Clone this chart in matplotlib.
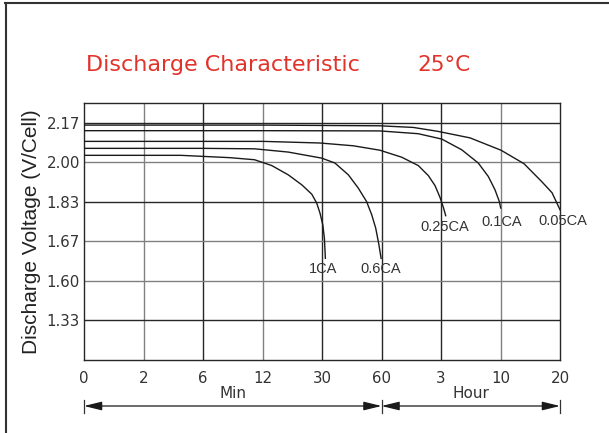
import matplotlib
matplotlib.use('Agg')
import matplotlib.pyplot as plt
import numpy as np
from matplotlib.lines import Line2D

# time axis: equal spacing between these marks (minutes)
t_marks = [0, 2, 6, 12, 30, 60, 180, 600, 1200]
t_labels = ['0', '2', '6', '12', '30', '60', '3', '10', '20']

# voltage axis: equal spacing between these marks (V/cell)
v_marks = [1.06, 1.33, 1.60, 1.67, 1.83, 2.00, 2.17, 2.255]
v_ticks = [1.33, 1.60, 1.67, 1.83, 2.00, 2.17]

# discharge curves, time in minutes, voltage in V/cell
t_1ca = [0, 4.5, 8.7, 11.2, 14.8, 19.8, 23.9, 26.9, 28.4, 29.4, 30.4, 31.2, 31.7]
v_1ca = [2.03, 2.03, 2.02, 2.011, 1.986, 1.946, 1.903, 1.863, 1.825, 1.784, 1.737, 1.683, 1.640]

t_06ca = [0, 6, 11.2, 19.8, 29.9, 36.5, 43.3, 48.3, 52.5, 55.1, 57.1, 58.7, 59.8]
v_06ca = [2.06, 2.06, 2.058, 2.044, 2.018, 1.997, 1.946, 1.889, 1.831, 1.777, 1.723, 1.664, 1.640]

t_025ca = [0, 12.2, 29.4, 45.8, 59.2, 80, 100.7, 134.2, 154.4, 167.9, 178, 196.4, 213.3]
v_025ca = [2.09, 2.09, 2.083, 2.071, 2.052, 2.036, 2.022, 1.986, 1.943, 1.900, 1.849, 1.808, 1.774]

t_01ca = [0, 12, 59, 134, 185, 326, 443, 514, 561, 592, 602]
v_01ca = [2.136, 2.136, 2.135, 2.123, 2.100, 2.054, 1.997, 1.939, 1.882, 1.831, 1.805]

t_005ca = [0, 12, 59, 124, 174, 385, 605, 837, 1018, 1120, 1200]
v_005ca = [2.16, 2.16, 2.157, 2.15, 2.133, 2.105, 2.052, 1.994, 1.916, 1.869, 1.798]

curves = [
    (t_1ca, v_1ca, '1CA', (-2, -4)),
    (t_06ca, v_06ca, '0.6CA', (0, -4)),
    (t_025ca, v_025ca, '0.25CA', (-1, -4)),
    (t_01ca, v_01ca, '0.1CA', (1, -7)),
    (t_005ca, v_005ca, '0.05CA', (3, -4)),
]

plt.rcParams['font.family'] = ['Liberation Sans', 'DejaVu Sans']

t_idx = np.arange(len(t_marks))
v_idx = [0, 1, 2, 3, 4, 5, 6, 6.5]


def t_fwd(x):
    return np.interp(x, t_marks, t_idx)


def t_inv(x):
    return np.interp(x, t_idx, t_marks)


def v_fwd(y):
    return np.interp(y, v_marks, v_idx)


def v_inv(y):
    return np.interp(y, v_idx, v_marks)


fig = plt.figure(figsize=(6.09, 4.33), dpi=100, facecolor='w')
ax = fig.add_axes([84 / 609, 1 - 360 / 433, 476 / 609, 257 / 433])
ax.set_xscale('function', functions=(t_fwd, t_inv))
ax.set_yscale('function', functions=(v_fwd, v_inv))
ax.set_xlim(0, 1200)
ax.set_ylim(1.06, 2.255)

dark = '#262626'
light = '#808080'
for t in t_marks[1:-1]:
    col = light if t in (2, 12, 600) else dark
    ax.axvline(t, color=col, lw=1.0, zorder=1)
for v in v_ticks:
    col = light if v in (2.00, 1.67, 1.60) else dark
    ax.axhline(v, color=col, lw=1.0, zorder=1)
for s in ax.spines.values():
    s.set_color(dark)
    s.set_linewidth(1.0)

for t, v, name, off in curves:
    ax.plot(t, v, color='#1a1a1a', lw=1.0, zorder=3)
    ax.annotate(name, (t[-1], v[-1]), xytext=off, textcoords='offset pixels',
                ha='center', va='top', fontsize=10.5, color='#333333')

ax.set_xticks(t_marks)
ax.set_xticklabels(t_labels)
ax.set_yticks(v_ticks)
ax.set_yticklabels(['%.2f' % v for v in v_ticks])
ax.minorticks_off()
ax.tick_params(axis='both', length=0, labelcolor='#333333')
for lab in ax.get_xticklabels() + ax.get_yticklabels():
    lab.set_family('DejaVu Sans')
    lab.set_fontsize(10.8)
ax.tick_params(axis='x', pad=8)
ax.tick_params(axis='y', pad=3)

ax.set_ylabel('Discharge Voltage (V/Cell)', fontsize=15, color='#222222', labelpad=4)

# Min / Hour span arrows under the axis
arr_y = -0.179
for a, b, lab in [(0, 60, 'Min'), (60, 1200, 'Hour')]:
    ax.annotate('', xy=(a, arr_y), xytext=(b, arr_y),
                xycoords=('data', 'axes fraction'), textcoords=('data', 'axes fraction'),
                arrowprops=dict(arrowstyle='<|-|>,head_length=0.9,head_width=0.22',
                                color='#1a1a1a', lw=0.9,
                                shrinkA=0, shrinkB=0, mutation_scale=12))
    mid = t_inv((t_fwd(a) + t_fwd(b)) / 2)
    ax.text(mid, arr_y + 0.05, lab, transform=ax.get_xaxis_transform(),
            ha='center', va='center', fontsize=11, color='#333333',
            family='DejaVu Sans')
for t in (0, 60, 1200):
    ax.plot([t, t], [arr_y + 0.025, arr_y - 0.027], color='#333333', lw=0.9,
            transform=ax.get_xaxis_transform(), clip_on=False)

# title
fig.text(86 / 609, 1 - 65 / 433, 'Discharge Characteristic', color='#e2332b',
         fontsize=16, ha='left', va='center', family='DejaVu Sans')
fig.text(417 / 609, 1 - 65 / 433, '25°C', color='#e2332b',
         fontsize=15.5, ha='left', va='center', family='DejaVu Sans')

# frame lines at the top and left of the picture
fig.add_artist(Line2D([5 / 609, 1], [1 - 3 / 433, 1 - 3 / 433], color='#333333', lw=1.5))
fig.add_artist(Line2D([6 / 609, 6 / 609], [0, 1 - 3 / 433], color='#333333', lw=1.5))

fig.savefig('out.png', dpi=100, facecolor='w')
